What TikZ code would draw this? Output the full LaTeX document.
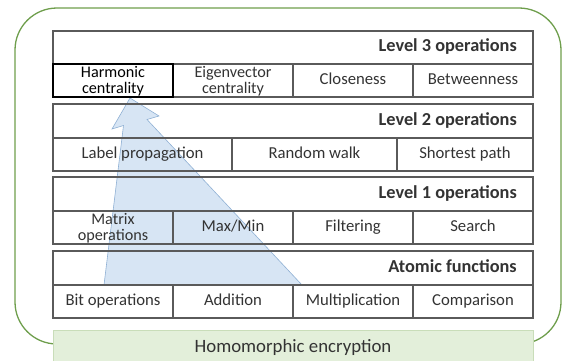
\documentclass[tikz,border=0pt]{standalone}
\usepackage{fontspec}
\setmainfont{Carlito}
\definecolor{boxline}{HTML}{5A5A5A}
\definecolor{txt}{HTML}{333333}
\definecolor{greenline}{HTML}{6E9E4C}
\definecolor{greenfill}{HTML}{E3EFDA}
\definecolor{greenedge}{HTML}{C9DDB9}
\definecolor{bluefill}{HTML}{D7E5F4}
\definecolor{blueedge}{HTML}{8FB0D4}
\tikzset{
  cell/.style={draw=boxline, line width=1.2pt},
  hdrtext/.style={font=\fontsize{18.3}{18}\selectfont\bfseries, text=txt, anchor=east, inner sep=0pt, text height=12pt, text depth=4pt},
  celltext/.style={font=\fontsize{16.7}{15}\selectfont, text=txt, align=center, inner sep=0pt, text height=11.5pt, text depth=3.5pt},
  twotext/.style={font=\fontsize{16.2}{15.5}\selectfont, text=txt, align=center, inner sep=0pt},
}
\begin{document}
\begin{tikzpicture}[x=1pt,y=-1pt]
\useasboundingbox (0,0) rectangle (563,360);
\clip (0,0) rectangle (563,360);
% outer green rounded frame
\draw[greenline, line width=1.3pt, rounded corners=42pt] (15,8) rectangle (561,344);
% blue arrow
\draw[fill=bluefill, draw=blueedge, line width=0.6pt, line join=miter]
  (104,285) -- (123.5,125.5) -- (112,129) -- (130,98) -- (159,116) -- (147,119.5) -- (302,285) -- cycle;
% homomorphic
\node[draw=greenedge, fill=greenfill, line width=1pt, minimum width=480pt, minimum height=40pt, anchor=north west, inner sep=0pt] (he) at (53,330) {};
\node[font=\fontsize{18.8}{18}\selectfont, text=txt, inner sep=0pt, text height=12pt, text depth=4pt] (het) at (293,348) {Homomorphic encryption};
% Level 3
\draw[cell] (53,31) rectangle (533,64);
\node[hdrtext] (h3) at (517,47.5) {Level 3 operations};
\draw[cell] (53,64) rectangle (533,97);
\draw[cell] (293,64) -- (293,97) (413,64) -- (413,97);
\draw[draw=black, line width=1.8pt] (53,64) rectangle (173,97);
\node[twotext, text=black] (c31) at (113,81) {Harmonic\\centrality};
\node[twotext] (c32) at (233,81) {Eigenvector\\centrality};
\node[celltext] (c33) at (353,80.5) {Closeness};
\node[celltext] (c34) at (473,80.5) {Betweenness};
% Level 2
\draw[cell] (53,104) rectangle (533,138);
\node[hdrtext] (h2) at (517,121) {Level 2 operations};
\draw[cell] (53,138) rectangle (533,171);
\draw[cell] (232,138) -- (232,171) (397,138) -- (397,171);
\node[celltext] (c21) at (142.5,154.5) {Label propagation};
\node[celltext] (c22) at (314.5,154.5) {Random walk};
\node[celltext] (c23) at (465,154.5) {Shortest path};
% Level 1
\draw[cell] (53,177) rectangle (533,211);
\node[hdrtext] (h1) at (517,194) {Level 1 operations};
\draw[cell] (53,211) rectangle (533,244);
\draw[cell] (173,211) -- (173,244) (293,211) -- (293,244) (413,211) -- (413,244);
\node[twotext] (c11) at (113,228) {Matrix\\operations};
\node[celltext] (c12) at (233,227.5) {Max/Min};
\node[celltext] (c13) at (353,227.5) {Filtering};
\node[celltext] (c14) at (473,227.5) {Search};
% Atomic
\draw[cell] (53,251) rectangle (533,285);
\node[hdrtext] (h0) at (517,268) {Atomic functions};
\draw[cell] (53,285) rectangle (533,318);
\draw[cell] (173,285) -- (173,318) (293,285) -- (293,318) (413,285) -- (413,318);
\node[celltext] (c01) at (113,301.5) {Bit operations};
\node[celltext] (c02) at (233,301.5) {Addition};
\node[celltext] (c03) at (353,301.5) {Multiplication};
\node[celltext] (c04) at (473,301.5) {Comparison};
\end{tikzpicture}
\end{document}
